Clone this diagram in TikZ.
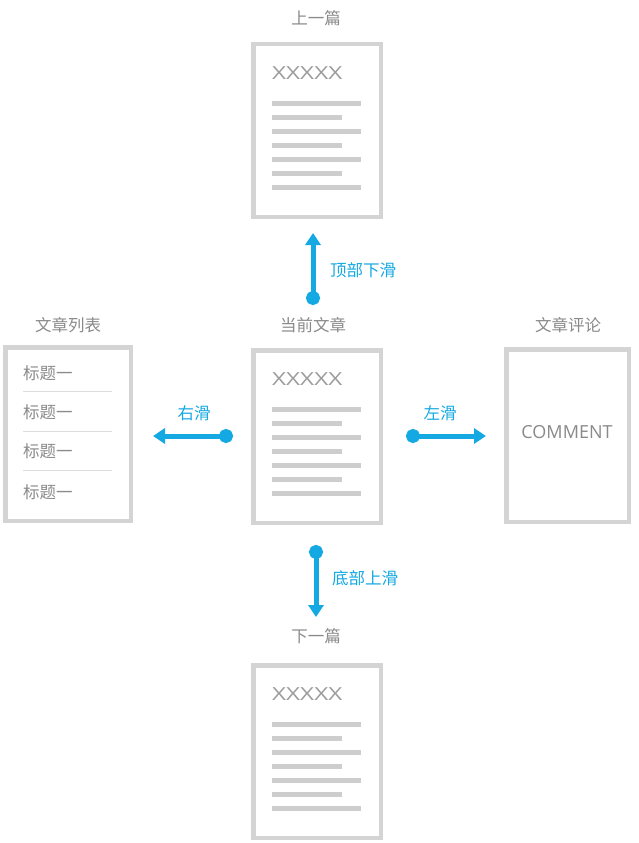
\documentclass[tikz,border=0pt]{standalone}
\usepackage{fontspec}
\setmainfont{Open Sans}
\newfontfamily\cjk{Noto Sans CJK SC}
\usetikzlibrary{arrows.meta}
\definecolor{boxgray}{HTML}{D4D4D4}
\definecolor{linegray}{HTML}{CDCDCD}
\definecolor{txtgray}{HTML}{8A8A8A}
\definecolor{swipe}{HTML}{14A9E3}
\tikzset{
  pagebox/.style={draw=boxgray, line width=4.5pt, fill=white, minimum width=127.5pt, minimum height=172.5pt, inner sep=0pt},
  sidebox/.style={draw=boxgray, line width=4.5pt, fill=white, inner sep=0pt},
  captext/.style={text=txtgray, font=\cjk\fontsize{16.5}{18}\selectfont, inner sep=0pt},
  bluelabel/.style={text=swipe, font=\cjk\fontsize{16.5}{18}\selectfont, inner sep=0pt},
  titletext/.style={text=txtgray!85, font=\fontsize{18}{20}\selectfont, inner sep=0pt, anchor=west},
  textline/.style={draw=linegray, line width=5pt},
  sepline/.style={draw=boxgray!80, line width=0.8pt},
  swipearrow/.style={draw=swipe, line width=5pt, {Circle[length=14pt]}-{Triangle[length=12pt,width=15pt]}},
}
\newcommand\docpage[3]{%
  \begin{scope}[shift={(#2,#3)}]
    \node[pagebox, anchor=north west] (#1) at (0,0) {};
    \node[titletext] (#1x) at (21,31) {\scalebox{1.35}[1]{XXXXX}};
    \foreach \k in {0,1,2,3,4,5,6} {
      \pgfmathsetmacro\len{ifthenelse(mod(\k,2)==0,89,70)}
      \draw[textline] (21,61+14*\k) -- ++(\len,0);
    }
  \end{scope}}
\begin{document}
\begin{tikzpicture}[x=1pt,y=-1pt]
\useasboundingbox[fill=white] (0,0) rectangle (639,843);

% pages
\docpage{prev}{251}{42}
\docpage{cur}{251}{348}
\docpage{next}{251}{663}

\node[captext] (prevlab) at (316,18) {上一篇};
\node[captext] (curlab) at (313,325) {当前文章};
\node[captext] (nextlab) at (316,636) {下一篇};

% list box
\node[sidebox, anchor=north west, minimum width=125.5pt, minimum height=173.5pt] (list) at (3,345) {};
\node[captext] (listlab) at (68,325) {文章列表};
\node[captext, anchor=west] (t1) at (23,373) {标题一};
\node[captext, anchor=west] (t2) at (23,412) {标题一};
\node[captext, anchor=west] (t3) at (23,451) {标题一};
\node[captext, anchor=west] (t4) at (23,492) {标题一};
\draw[sepline] (23,391) -- (112,391);
\draw[sepline] (23,431) -- (112,431);
\draw[sepline] (23,470) -- (112,470);

% comment box
\node[sidebox, anchor=north west, minimum width=122.5pt, minimum height=172.5pt] (comment) at (504,347) {};
\node[captext] (commentlab) at (568,325) {文章评论};
\node[text=txtgray, font=\fontsize{18}{20}\selectfont, inner sep=0pt] (commenttxt) at (567,432) {COMMENT};

% swipe arrows
\coordinate (upS) at (313,305);
\coordinate (upE) at (313,233);
\draw[swipearrow] (upS) -- (upE);
\node[bluelabel, anchor=west] (uplab) at (330,270) {顶部下滑};

\coordinate (dnS) at (316,545);
\coordinate (dnE) at (316,617);
\draw[swipearrow] (dnS) -- (dnE);
\node[bluelabel, anchor=west] (dnlab) at (332,578) {底部上滑};

\coordinate (lfS) at (233,436);
\coordinate (lfE) at (153,436);
\draw[swipearrow] (lfS) -- (lfE);
\node[bluelabel] (lflab) at (194,413) {右滑};

\coordinate (rtS) at (406,436);
\coordinate (rtE) at (486,436);
\draw[swipearrow] (rtS) -- (rtE);
\node[bluelabel] (rtlab) at (440,413) {左滑};
\end{tikzpicture}
\end{document}
